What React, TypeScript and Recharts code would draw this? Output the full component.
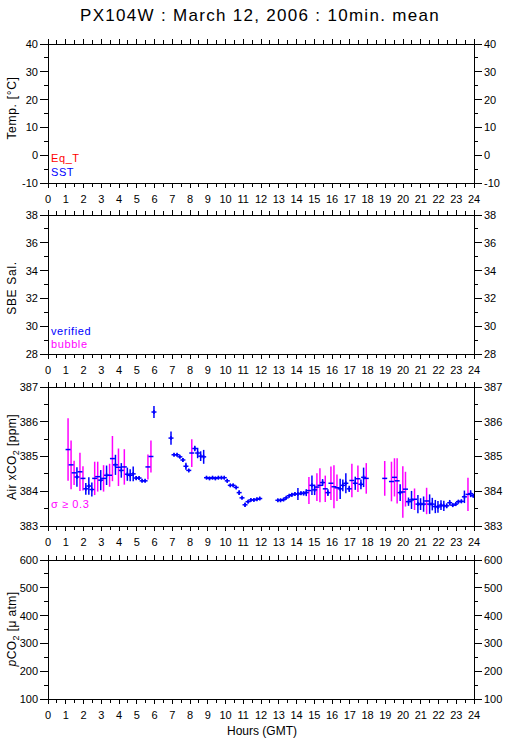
import React from 'react';
import { ScatterChart, Scatter, XAxis, YAxis, ErrorBar } from 'recharts';

const FONT = '"Liberation Sans", Arial, Helvetica, sans-serif';
const BLUE = '#0000ff';
const MAGENTA = '#ff00ff';
const RED = '#ff0000';

// x axis: hours 0..24, labels every hour, minor ticks every half hour
const hourLabels = [
  '0', '1', '2', '3', '4', '5', '6', '7', '8', '9', '10', '11', '12',
  '13', '14', '15', '16', '17', '18', '19', '20', '21', '22', '23', '24',
];
const hourTicks = Array.from({ length: 49 }, (_, i) => i / 2);

// y axes of the four panels
const tempTicks = [-10, -5, 0, 5, 10, 15, 20, 25, 30, 35, 40];
const tempLabels = [-10, 0, 10, 20, 30, 40];
const salTicks = [28, 29, 30, 31, 32, 33, 34, 35, 36, 37, 38];
const salLabels = [28, 30, 32, 34, 36, 38];
const airTicks = [383, 383.5, 384, 384.5, 385, 385.5, 386, 386.5, 387];
const airLabels = [383, 384, 385, 386, 387];
const pco2Ticks = [100, 150, 200, 250, 300, 350, 400, 450, 500, 550, 600];
const pco2Labels = [100, 200, 300, 400, 500, 600];

// Air xCO2 10 min means (hour GMT, ppm, standard deviation)
const airHours = [
  1.13, 1.30, 1.47, 1.63, 1.80, 1.97, 2.13, 2.30, 2.47, 2.63,
  2.80, 2.97, 3.13, 3.30, 3.47, 3.63, 3.80, 3.97, 4.13, 4.30,
  4.47, 4.63, 4.80, 4.97, 5.13, 5.30, 5.47, 5.63, 5.80, 5.97,
  6.93, 7.10, 7.27, 7.43, 7.60, 7.77, 7.93, 8.10, 8.27, 8.43,
  8.60, 8.77, 8.93, 9.10, 9.27, 9.43, 9.60, 9.77, 9.93, 10.10,
  10.27, 10.43, 10.60, 10.77, 10.93, 11.10, 11.27, 11.43, 11.60, 11.77,
  11.93, 12.95, 13.10, 13.27, 13.42, 13.59, 13.74, 13.91, 14.08, 14.25,
  14.40, 14.55, 14.70, 14.87, 15.02, 15.15, 15.32, 15.47, 15.62, 15.77,
  15.94, 16.11, 16.28, 16.46, 16.61, 16.78, 16.97, 17.12, 17.31, 17.46,
  17.63, 17.78, 17.93, 18.97, 19.35, 19.52, 19.67, 19.84, 19.99, 20.14,
  20.31, 20.48, 20.65, 20.84, 20.99, 21.16, 21.33, 21.50, 21.65, 21.82,
  21.97, 22.14, 22.30, 22.46, 22.63, 22.80, 22.97, 23.12, 23.29, 23.46,
  23.66, 23.81, 23.96,
];
const airValues = [
  385.20, 384.76, 384.53, 384.41, 384.56, 384.37, 384.07, 384.15, 384.05, 384.37,
  384.42, 384.32, 384.37, 384.46, 384.46, 384.94, 384.76, 384.69, 384.60, 384.70,
  384.49, 384.46, 384.50, 384.38, 384.38, 384.30, 384.30, 384.70, 385.00, 386.28,
  385.53, 385.05, 385.05, 384.99, 384.90, 384.72, 384.60, 385.10, 385.23, 385.10,
  385.01, 384.99, 384.39, 384.37, 384.39, 384.37, 384.39, 384.39, 384.39, 384.30,
  384.17, 384.17, 384.11, 383.96, 383.81, 383.61, 383.70, 383.75, 383.75, 383.77,
  383.79, 383.74, 383.74, 383.76, 383.81, 383.87, 383.90, 383.92, 383.92, 383.94,
  383.94, 383.96, 384.02, 384.17, 384.04, 384.12, 384.17, 384.25, 384.07, 383.96,
  384.23, 384.13, 384.10, 384.07, 384.17, 384.23, 384.07, 384.31, 384.23, 384.36,
  384.20, 384.40, 384.37, 384.37, 384.28, 384.40, 384.30, 383.96, 383.98, 384.06,
  383.70, 383.75, 383.77, 383.63, 383.63, 383.63, 383.72, 383.63, 383.63, 383.56,
  383.55, 383.60, 383.58, 383.58, 383.67, 383.60, 383.63, 383.70, 383.71, 383.84,
  383.91, 383.93, 383.87,
];
const airSigma = [
  0.90, 0.70, 0.35, 0.28, 0.55, 0.35, 0.17, 0.25, 0.20, 0.48,
  0.43, 0.29, 0.38, 0.28, 0.33, 0.65, 0.29, 0.54, 0.21, 0.51,
  0.19, 0.17, 0.21, 0.06, 0.05, 0.04, 0.04, 0.36, 0.46, 0.17,
  0.19, 0.04, 0.04, 0.04, 0.06, 0.10, 0.04, 0.40, 0.08, 0.15,
  0.14, 0.20, 0.04, 0.04, 0.04, 0.04, 0.04, 0.04, 0.04, 0.05,
  0.04, 0.04, 0.04, 0.07, 0.04, 0.06, 0.04, 0.04, 0.04, 0.04,
  0.04, 0.04, 0.04, 0.04, 0.04, 0.04, 0.05, 0.05, 0.17, 0.05,
  0.06, 0.10, 0.39, 0.28, 0.15, 0.40, 0.49, 0.10, 0.38, 0.10,
  0.48, 0.62, 0.38, 0.29, 0.17, 0.29, 0.09, 0.48, 0.19, 0.38,
  0.14, 0.28, 0.44, 0.50, 0.57, 0.55, 0.65, 0.24, 0.74, 0.50,
  0.12, 0.26, 0.31, 0.26, 0.17, 0.22, 0.38, 0.28, 0.18, 0.19,
  0.17, 0.14, 0.15, 0.07, 0.08, 0.05, 0.05, 0.05, 0.05, 0.18,
  0.48, 0.10, 0.05,
];

const airPoints = airHours.map((h, i) => ({ h, v: airValues[i], err: airSigma[i] }));
const quietPoints = airPoints.filter((p) => p.err < 0.3);
const noisyPoints = airPoints.filter((p) => p.err >= 0.3);

function HourTick(props: any) {
  const { x, y, payload, side } = props;
  const v = payload.value;
  const major = Number.isInteger(v);
  const d = side === 'top' ? -1 : 1;
  return (
    <g>
      <line x1={x} x2={x} y1={y} y2={y + d * (major ? 5 : 4)} stroke="#000" shapeRendering="crispEdges" />
      {side === 'bottom' && major && (
        <text x={x} y={y + 20} textAnchor="middle" fontSize={11} fontFamily={FONT} fill="#000">
          {hourLabels[v]}
        </text>
      )}
    </g>
  );
}

function ValueTick(props: any) {
  const { x, y, payload, side, labels } = props;
  const v = payload.value;
  const major = labels.includes(v);
  const d = side === 'left' ? -1 : 1;
  return (
    <g>
      <line x1={x} x2={x + d * (major ? 8 : 4)} y1={y} y2={y} stroke="#000" shapeRendering="crispEdges" />
      {major && (
        <text
          x={x + d * 10}
          y={y}
          dy="0.36em"
          textAnchor={side === 'left' ? 'end' : 'start'}
          fontSize={11}
          fontFamily={FONT}
          fill="#000"
        >
          {v}
        </text>
      )}
    </g>
  );
}

const QuietMark = (p: any) => (
  <g>
    <line x1={p.cx - 2.5} x2={p.cx + 2.5} y1={p.cy} y2={p.cy} stroke={BLUE} strokeWidth={1.5} />
    <line x1={p.cx} x2={p.cx} y1={p.cy - 2} y2={p.cy + 2} stroke={BLUE} strokeWidth={1.5} />
  </g>
);

const NoisyMark = (p: any) => (
  <line x1={p.cx - 2.5} x2={p.cx + 2.5} y1={p.cy} y2={p.cy} stroke={BLUE} strokeWidth={1.5} />
);

const axisLine = { stroke: '#000', shapeRendering: 'crispEdges' };

function Panel({ top, domain, ticks, labels, children }: any) {
  return (
    <div style={{ position: 'absolute', left: 0, top: top - 10 }}>
      <ScatterChart width={509} height={179} margin={{ top: 0, right: 0, bottom: 0, left: 0 }}>
        <XAxis
          xAxisId="t"
          orientation="top"
          type="number"
          dataKey="h"
          domain={[0, 24]}
          ticks={hourTicks}
          interval={0}
          height={10}
          tickSize={0}
          tickMargin={0}
          tickLine={false}
          axisLine={axisLine}
          tick={(p: any) => <HourTick {...p} side="top" />}
          allowDataOverflow
        />
        <XAxis
          xAxisId="b"
          orientation="bottom"
          type="number"
          dataKey="h"
          domain={[0, 24]}
          ticks={hourTicks}
          interval={0}
          height={30}
          tickSize={0}
          tickMargin={0}
          tickLine={false}
          axisLine={axisLine}
          tick={(p: any) => <HourTick {...p} side="bottom" />}
          allowDataOverflow
        />
        <YAxis
          yAxisId="l"
          orientation="left"
          type="number"
          dataKey="v"
          domain={domain}
          ticks={ticks}
          interval={0}
          width={48}
          tickSize={0}
          tickMargin={0}
          tickLine={false}
          axisLine={axisLine}
          tick={(p: any) => <ValueTick {...p} side="left" labels={labels} />}
          allowDataOverflow
        />
        <YAxis
          yAxisId="r"
          orientation="right"
          type="number"
          dataKey="v"
          domain={domain}
          ticks={ticks}
          interval={0}
          width={35}
          tickSize={0}
          tickMargin={0}
          tickLine={false}
          axisLine={axisLine}
          tick={(p: any) => <ValueTick {...p} side="right" labels={labels} />}
          allowDataOverflow
        />
        {children}
      </ScatterChart>
    </div>
  );
}

export default function App() {
  return (
    <div style={{ position: 'absolute', left: 0, top: 0, width: 509, height: 739, background: '#fff' }}>
      <Panel top={44} domain={[-10, 40]} ticks={tempTicks} labels={tempLabels}>
        <Scatter xAxisId="b" yAxisId="l" data={[]} isAnimationActive={false} />
      </Panel>
      <Panel top={215} domain={[28, 38]} ticks={salTicks} labels={salLabels}>
        <Scatter xAxisId="b" yAxisId="l" data={[]} isAnimationActive={false} />
      </Panel>
      <Panel top={387} domain={[383, 387]} ticks={airTicks} labels={airLabels}>
        <Scatter xAxisId="b" yAxisId="l" data={noisyPoints} isAnimationActive={false} shape={NoisyMark}>
          <ErrorBar dataKey="err" direction="y" width={0} stroke={MAGENTA} strokeWidth={1.5} isAnimationActive={false} />
        </Scatter>
        <Scatter xAxisId="b" yAxisId="l" data={quietPoints} isAnimationActive={false} shape={QuietMark}>
          <ErrorBar dataKey="err" direction="y" width={0} stroke={BLUE} strokeWidth={1.5} isAnimationActive={false} />
        </Scatter>
      </Panel>
      <Panel top={560} domain={[100, 600]} ticks={pco2Ticks} labels={pco2Labels}>
        <Scatter xAxisId="b" yAxisId="l" data={[]} isAnimationActive={false} />
      </Panel>

      <svg
        width={509}
        height={739}
        style={{ position: 'absolute', left: 0, top: 0, pointerEvents: 'none' }}
        fontFamily={FONT}
      >
        <text x={260} y={21} textAnchor="middle" fontSize={17} letterSpacing={1.3} fill="#000">
          PX104W : March 12, 2006 : 10min. mean
        </text>

        <text transform="translate(16,108) rotate(-90)" textAnchor="middle" fontSize={12} letterSpacing={0.7} fill="#000">
          Temp. [°C]
        </text>
        <text x={51} y={162} fontSize={11} letterSpacing={0.6} fill={RED}>Eq_T</text>
        <text x={51} y={176} fontSize={11} letterSpacing={0.6} fill={BLUE}>SST</text>

        <text transform="translate(16,288) rotate(-90)" textAnchor="middle" fontSize={12} letterSpacing={0.7} fill="#000">
          SBE Sal.
        </text>
        <text x={51} y={335} fontSize={11} letterSpacing={0.6} fill={BLUE}>verified</text>
        <text x={51} y={348} fontSize={11} letterSpacing={0.6} fill={MAGENTA}>bubble</text>

        <text transform="translate(16,457) rotate(-90)" textAnchor="middle" fontSize={12} letterSpacing={0.4} fill="#000">
          Air xCO<tspan fontSize={9} dy={3}>2</tspan>
          <tspan dy={-3}> [ppm]</tspan>
        </text>
        <text x={51} y={508} fontSize={11} letterSpacing={0.6} fill={MAGENTA}>σ ≥ 0.3</text>

        <text transform="translate(16,629) rotate(-90)" textAnchor="middle" fontSize={12} letterSpacing={0.4} fill="#000">
          <tspan fontStyle="italic">p</tspan>CO<tspan fontSize={9} dy={3}>2</tspan>
          <tspan dy={-3}> [μ atm]</tspan>
        </text>

        <text x={262} y={735} textAnchor="middle" fontSize={12} fill="#000">
          Hours (GMT)
        </text>
      </svg>
    </div>
  );
}
